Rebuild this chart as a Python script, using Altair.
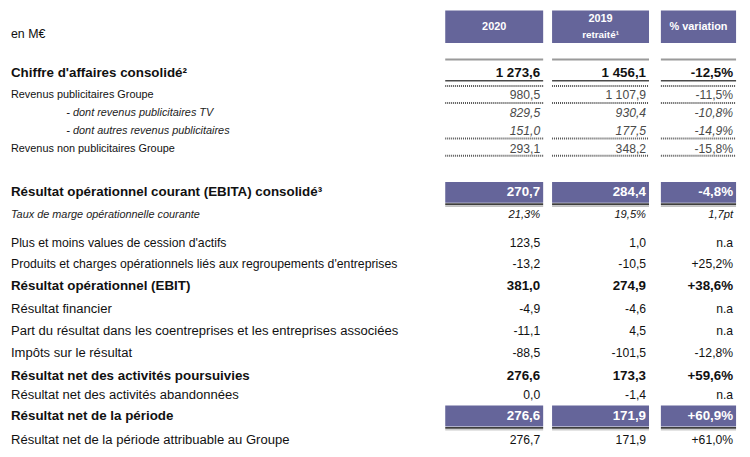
import altair as alt
import pandas as pd

# ---------------- data ----------------
labels = [
    "Chiffre d'affaires consolidé²",
    "Revenus publicitaires Groupe",
    "- dont revenus publicitaires TV",
    "- dont autres revenus publicitaires",
    "Revenus non publicitaires Groupe",
    "Résultat opérationnel courant (EBITA) consolidé³",
    "Taux de marge opérationnelle courante",
    "Plus et moins values de cession d'actifs",
    "Produits et charges opérationnels liés aux regroupements d'entreprises",
    "Résultat opérationnel (EBIT)",
    "Résultat financier",
    "Part du résultat dans les coentreprises et les entreprises associées",
    "Impôts sur le résultat",
    "Résultat net des activités poursuivies",
    "Résultat net des activités abandonnées",
    "Résultat net de la période",
    "Résultat net de la période attribuable au Groupe",
]
v2020 = ["1 273,6", "980,5", "829,5", "151,0", "293,1", "270,7", "21,3%", "123,5", "-13,2",
         "381,0", "-4,9", "-11,1", "-88,5", "276,6", "0,0", "276,6", "276,7"]
v2019 = ["1 456,1", "1 107,9", "930,4", "177,5", "348,2", "284,4", "19,5%", "1,0", "-10,5",
         "274,9", "-4,6", "4,5", "-101,5", "173,3", "-1,4", "171,9", "171,9"]
variation = ["-12,5%", "-11,5%", "-10,8%", "-14,9%", "-15,8%", "-4,8%", "1,7pt", "n.a", "+25,2%",
             "+38,6%", "n.a", "n.a", "-12,8%", "+59,6%", "n.a", "+60,9%", "+61,0%"]
unit_label = "en M€"
header_top = ["2020", "2019", "% variation"]
header_sub = ["", "retraité¹", ""]

# ---------------- layout / style ----------------
row_y = [71, 94, 112, 130, 148, 192, 215, 243, 264, 287, 310, 332, 354, 378, 397, 418, 442]
row_style = ["bold", "normal", "italic", "italic", "normal", "bold", "italic", "normal", "normal",
             "bold", "normal", "normal", "normal", "bold", "normal", "bold", "normal"]
label_x = [11, 11, 67, 67, 11, 11, 11, 11, 11, 11, 11, 11, 11, 11, 11, 11, 11]
label_size = [13.5, 11, 11, 11, 11, 13.5, 11, 12.4, 12.4, 13.5, 13.2, 13.2, 13.2, 13.5, 13.2, 13.5, 13.2]
num_size = [13.5, 12.3, 12.3, 12.3, 12.3, 13.5, 11.3, 12.3, 12.3, 13.5, 12.3, 12.3, 12.3, 13.5, 12.3, 13.5, 12.3]
highlight_rows = [5, 15]
grey_rows = [1, 2, 3, 4]
col_left = [450, 558, 668]
col_right = [549, 656, 744]
num_right = [546, 653, 741]
PURPLE = "#65659a"
FONT = "Liberation Sans"

xs = alt.Scale(domain=[8, 750], nice=False, zero=False)
ys = alt.Scale(domain=[8, 457], nice=False, zero=False, reverse=True)


def X(f):
    return alt.X(f, type="quantitative", scale=xs, axis=None)


def X2(f):
    return alt.X2(f)


def Y(f):
    return alt.Y(f, type="quantitative", scale=ys, axis=None)


layers = []

# header boxes
hdr = pd.DataFrame({"x1": col_left, "x2": col_right, "y1": [8] * 3, "y2": [41] * 3})
layers.append(alt.Chart(hdr).mark_rect(color=PURPLE).encode(
    x=X("x1"), x2=X2("x2"), y=Y("y1"), y2=alt.Y2("y2")))

# highlight bars
hb = []
for r in highlight_rows:
    for j in range(3):
        hb.append({"x1": col_left[j], "x2": col_right[j], "y1": row_y[r] - 10.5, "y2": row_y[r] + 10.5,
                   "yl": row_y[r] + 12, "yl2": row_y[r] + 14})
hb = pd.DataFrame(hb)
layers.append(alt.Chart(hb).mark_rect(color=PURPLE).encode(
    x=X("x1"), x2=X2("x2"), y=Y("y1"), y2=alt.Y2("y2")))
layers.append(alt.Chart(hb).mark_rule(color="#3d3d3d", strokeWidth=2).encode(
    x=X("x1"), x2=X2("x2"), y=Y("yl")))
layers.append(alt.Chart(hb).mark_rule(color="#b0b0b0", strokeWidth=1).encode(
    x=X("x1"), x2=X2("x2"), y=Y("yl2")))

# rules
def rules_df(yvals):
    return pd.DataFrame([{"x1": col_left[j], "x2": col_right[j], "y": yv}
                         for yv in yvals for j in range(3)])

layers.append(alt.Chart(rules_df([57.5])).mark_rule(color="#9a9a9a", strokeWidth=2).encode(
    x=X("x1"), x2=X2("x2"), y=Y("y")))
layers.append(alt.Chart(rules_df([79])).mark_rule(color="#4a4a4a", strokeWidth=1.5).encode(
    x=X("x1"), x2=X2("x2"), y=Y("y")))
layers.append(alt.Chart(rules_df([84.5, 101.5, 137.5, 155])).mark_rule(
    color="#555555", strokeWidth=2, strokeDash=[1, 1]).encode(
    x=X("x1"), x2=X2("x2"), y=Y("y")))

# header texts
ht = pd.DataFrame({
    "text": [header_top[0], header_top[1], header_sub[1], header_top[2]],
    "x": [(col_left[0] + col_right[0]) / 2, (col_left[1] + col_right[1]) / 2,
          (col_left[1] + col_right[1]) / 2, (col_left[2] + col_right[2]) / 2],
    "y": [25, 17, 33, 25],
    "size": [11, 11, 10, 11],
})
layers.append(alt.Chart(ht).mark_text(font=FONT, fontWeight="bold", color="white",
                                      align="center", baseline="middle").encode(
    x=X("x"), y=Y("y"), text="text:N", size=alt.Size("size:Q", scale=None)))

# unit label
layers.append(alt.Chart(pd.DataFrame({"text": [unit_label], "x": [11], "y": [32]})).mark_text(
    font=FONT, fontSize=12.5, color="#111", align="left", baseline="middle").encode(
    x=X("x"), y=Y("y"), text="text:N"))

# row labels
lab = pd.DataFrame({"text": labels, "x": label_x, "y": row_y, "style": row_style, "size": label_size})
# numbers
nums = []
for j, vals in enumerate([v2020, v2019, variation]):
    for i, v in enumerate(vals):
        if i in highlight_rows:
            c = "#ffffff"
        elif i in grey_rows:
            c = "#4a4a4a"
        else:
            c = "#111111"
        nums.append({"text": v, "x": num_right[j], "y": row_y[i], "style": row_style[i],
                     "size": num_size[i], "color": c})
nums = pd.DataFrame(nums)

styles = {"normal": ("normal", "normal"), "bold": ("bold", "normal"), "italic": ("normal", "italic")}
for s, (w, fs) in styles.items():
    layers.append(alt.Chart(lab).transform_filter(alt.datum.style == s).mark_text(
        font=FONT, fontWeight=w, fontStyle=fs, align="left", baseline="middle",
        color="#111" if s != "italic" else "#222").encode(
        x=X("x"), y=Y("y"), text="text:N", size=alt.Size("size:Q", scale=None)))
    layers.append(alt.Chart(nums).transform_filter(alt.datum.style == s).mark_text(
        font=FONT, fontWeight=w, fontStyle=fs, align="right", baseline="middle").encode(
        x=X("x"), y=Y("y"), text="text:N", size=alt.Size("size:Q", scale=None),
        color=alt.Color("color:N", scale=None)))

chart = alt.layer(*layers).properties(
    width=742, height=449, padding=0, autosize="none", background="white"
).configure_view(stroke=None)

chart.save("out.html", embed_options={"renderer": "svg", "actions": False})
